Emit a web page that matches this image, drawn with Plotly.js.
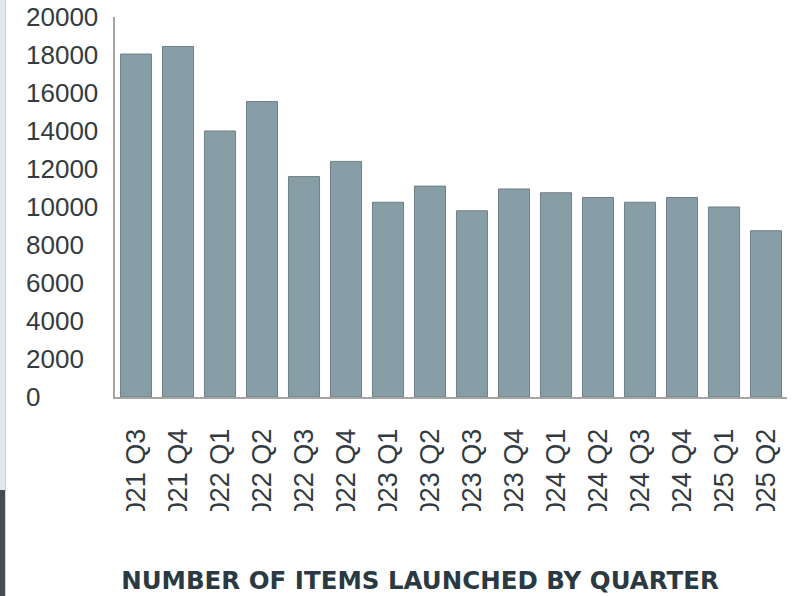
<!DOCTYPE html>
<html>
<head>
<meta charset="utf-8">
<script src="https://cdn.plot.ly/plotly-3.0.1.min.js"></script>
<style>
  html, body { margin: 0; padding: 0; background: #ffffff; }
  #chart { width: 800px; height: 596px; }
</style>
</head>
<body>
<div id="chart"></div>
<script>
const quarters = [
  "2021 Q3", "2021 Q4", "2022 Q1", "2022 Q2", "2022 Q3", "2022 Q4",
  "2023 Q1", "2023 Q2", "2023 Q3", "2023 Q4", "2024 Q1", "2024 Q2",
  "2024 Q3", "2024 Q4", "2025 Q1", "2025 Q2"
];
const itemsLaunched = [
  18050, 18450, 14000, 15550, 11600, 12400,
  10250, 11100, 9800, 10950, 10750, 10500,
  10250, 10500, 10000, 8750
];
const yTickValues = [0, 2000, 4000, 6000, 8000, 10000, 12000, 14000, 16000, 18000, 20000];
const yTickLabels = ["0", "2000", "4000", "6000", "8000", "10000", "12000", "14000", "16000", "18000", "20000"];
const chartTitle = "NUMBER OF ITEMS LAUNCHED BY QUARTER";

const W = 800, H = 596;
const margin = { l: 115, r: 13, t: 17, b: 199 };
const plotW = W - margin.l - margin.r;
const plotH = H - margin.t - margin.b;
// helpers converting page pixels to paper coordinates (decoration only)
const px = x => (x - margin.l) / plotW;
const py = y => (H - margin.b - y) / plotH;

const trace = {
  type: "bar",
  x: quarters,
  y: itemsLaunched,
  marker: { color: "#889ea7", line: { color: "#6f7e84", width: 1 } },
  hoverinfo: "x+y"
};

// left-aligned y tick labels, placed on the y axis scale
const yLabelAnnotations = yTickValues.map((v, i) => ({
  xref: "paper", yref: "y",
  x: px(24), y: v,
  xanchor: "left", yanchor: "middle",
  text: yTickLabels[i],
  showarrow: false,
  font: { family: "Liberation Sans, Arial, sans-serif", size: 26, color: "#333b41" }
}));

const layout = {
  width: W, height: H,
  margin: margin,
  paper_bgcolor: "#ffffff",
  plot_bgcolor: "#ffffff",
  showlegend: false,
  bargap: 0.26,
  font: { family: "Liberation Sans, Arial, sans-serif", color: "#333b41" },
  title: {
    text: chartTitle,
    font: { family: "DejaVu Sans, sans-serif", size: 24.5, weight: 700, color: "#2b3a42" },
    xref: "container", yref: "container",
    x: 420 / W, xanchor: "center",
    y: (H - 580) / H, yanchor: "middle"
  },
  xaxis: {
    type: "category",
    tickangle: -90,
    showgrid: false, zeroline: false,
    showline: true, linecolor: "#a5a5a5", linewidth: 2,
    ticks: "",
    ticklabelstandoff: 19,
    tickfont: { size: 27, color: "#333b41" }
  },
  yaxis: {
    range: [0, 20000],
    tickvals: yTickValues,
    showticklabels: false,
    showgrid: false, zeroline: false,
    showline: true, linecolor: "#a5a5a5", linewidth: 2,
    ticks: ""
  },
  annotations: yLabelAnnotations,
  shapes: [
    // mask clipping the bottom of the rotated tick labels
    { type: "rect", xref: "paper", yref: "paper", layer: "above",
      x0: px(6), x1: px(800), y0: py(596), y1: py(511),
      fillcolor: "#ffffff", line: { width: 0 } },
    // left screenshot edge strip
    { type: "rect", xref: "paper", yref: "paper", layer: "above",
      x0: px(0), x1: px(5), y0: py(490), y1: py(0),
      fillcolor: "#dfe8f0", line: { width: 0 } },
    { type: "rect", xref: "paper", yref: "paper", layer: "above",
      x0: px(5), x1: px(6), y0: py(596), y1: py(0),
      fillcolor: "#cdd5dc", line: { width: 0 } },
    { type: "rect", xref: "paper", yref: "paper", layer: "above",
      x0: px(0), x1: px(5), y0: py(596), y1: py(490),
      fillcolor: "#464d52", line: { width: 0 } }
  ]
};

Plotly.newPlot("chart", [trace], layout, { displayModeBar: false, staticPlot: true });
</script>
</body>
</html>
